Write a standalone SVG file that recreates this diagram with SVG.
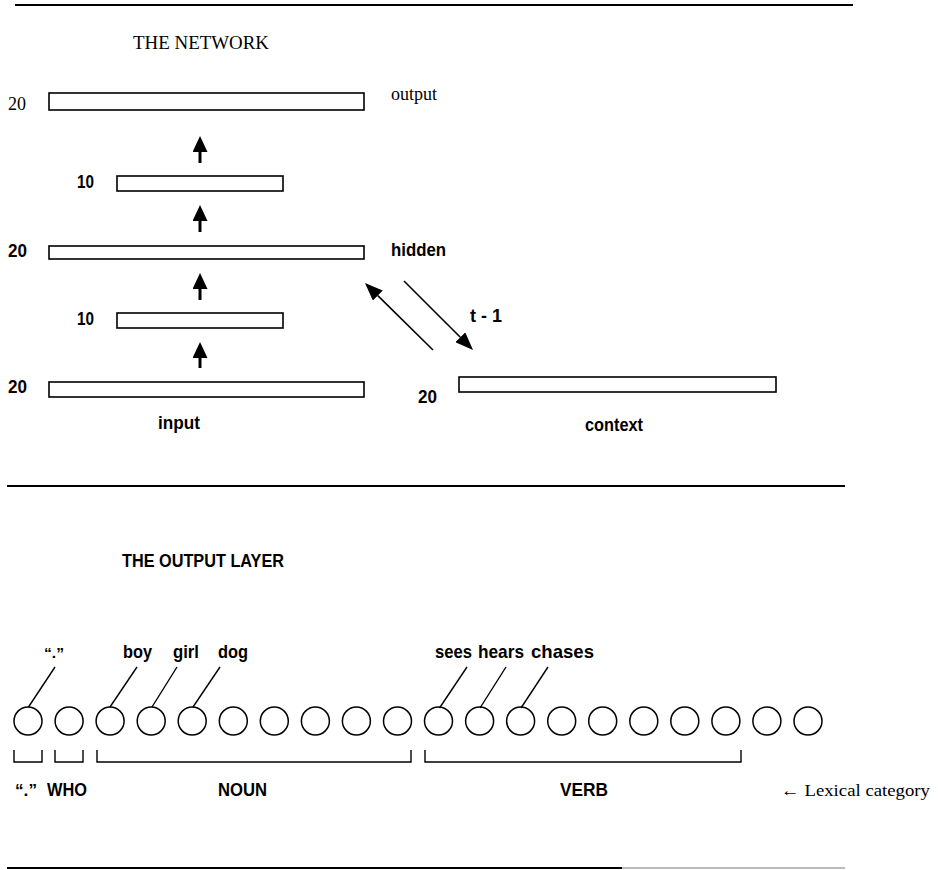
<svg xmlns="http://www.w3.org/2000/svg" width="938" height="870" viewBox="0 0 938 870">
<style>
  .bg{fill:#fff}
  .rule{stroke:#000;stroke-width:2;fill:none}
  .layer{fill:#fff;stroke:#000;stroke-width:1.6}
  .unit{fill:#fff;stroke:#000;stroke-width:1.5}
  .lead{stroke:#000;stroke-width:1.4;fill:none}
  .brk{stroke:#000;stroke-width:1.4;fill:none}
  .up{stroke:#000;stroke-width:3;fill:none}
  .diag{stroke:#000;stroke-width:1.6;fill:none}
  .serif{font-family:"Liberation Serif","Times New Roman",serif;fill:#000}
  .sans{font-family:"Liberation Sans",Arial,sans-serif;font-weight:bold;fill:#000}
</style>
<defs>
  <marker id="ahv" viewBox="0 0 16 15" refX="0" refY="7.5" markerWidth="16" markerHeight="15" markerUnits="userSpaceOnUse" orient="auto">
    <path d="M0,0 L16,7.5 L0,15 z" fill="#000"/>
  </marker>
  <marker id="ahd" viewBox="0 0 18 14" refX="0" refY="7" markerWidth="18" markerHeight="14" markerUnits="userSpaceOnUse" orient="auto">
    <path d="M0,0 L18,7 L0,14 z" fill="#000"/>
  </marker>
</defs>
<rect class="bg" x="0" y="0" width="938" height="870"/>

<g id="rules">
  <line class="rule" x1="15" y1="5" x2="853" y2="5"/>
  <line class="rule" x1="7" y1="486" x2="845" y2="486"/>
  <line class="rule" x1="7" y1="868" x2="622" y2="868"/>
  <line x1="622" y1="868" x2="845" y2="868" stroke="#bbb" stroke-width="2"/>
</g>

<g id="titles">
  <text class="serif" x="133" y="49" font-size="19" textLength="136" lengthAdjust="spacingAndGlyphs">THE NETWORK</text>
  <text class="sans" x="122" y="567" font-size="19" textLength="162" lengthAdjust="spacingAndGlyphs">THE OUTPUT LAYER</text>
</g>

<g id="output-layer">
  <rect class="layer" x="49" y="93" width="315" height="17"/>
  <text class="serif" x="8" y="110" font-size="18">20</text>
  <text class="serif" x="391" y="100" font-size="18">output</text>
</g>
<g id="hidden2">
  <rect class="layer" x="117" y="176" width="166" height="15"/>
  <text class="sans" x="77" y="188" font-size="19" textLength="17" lengthAdjust="spacingAndGlyphs">10</text>
</g>
<g id="hidden-layer">
  <rect class="layer" x="49" y="246" width="315" height="13"/>
  <text class="sans" x="8" y="257" font-size="19" textLength="19" lengthAdjust="spacingAndGlyphs">20</text>
  <text class="sans" x="391" y="256" font-size="19" textLength="55" lengthAdjust="spacingAndGlyphs">hidden</text>
</g>
<g id="hidden1">
  <rect class="layer" x="117" y="313" width="166" height="15"/>
  <text class="sans" x="77" y="325" font-size="19" textLength="17" lengthAdjust="spacingAndGlyphs">10</text>
</g>
<g id="input-layer">
  <rect class="layer" x="49" y="382" width="315" height="15" stroke-width="2"/>
  <text class="sans" x="8" y="393" font-size="19" textLength="19" lengthAdjust="spacingAndGlyphs">20</text>
  <text class="sans" x="158" y="429" font-size="19" textLength="42" lengthAdjust="spacingAndGlyphs">input</text>
</g>
<g id="context-layer">
  <rect class="layer" x="459" y="377" width="317" height="15"/>
  <text class="sans" x="418" y="403" font-size="19" textLength="19" lengthAdjust="spacingAndGlyphs">20</text>
  <text class="sans" x="585" y="431" font-size="19" textLength="58" lengthAdjust="spacingAndGlyphs">context</text>
</g>

<g id="connectors">
  <line class="up" x1="200" y1="163" x2="200" y2="152" marker-end="url(#ahv)"/>
  <line class="up" x1="200" y1="232" x2="200" y2="221" marker-end="url(#ahv)"/>
  <line class="up" x1="200" y1="300" x2="200" y2="289" marker-end="url(#ahv)"/>
  <line class="up" x1="200" y1="368" x2="200" y2="358" marker-end="url(#ahv)"/>
  <line class="diag" x1="433" y1="350" x2="377.8" y2="295.6" marker-end="url(#ahd)"/>
  <line class="diag" x1="404" y1="281" x2="460.3" y2="337.3" marker-end="url(#ahd)"/>
  <text class="sans" x="470" y="322" font-size="19" textLength="32" lengthAdjust="spacingAndGlyphs">t - 1</text>
</g>

<g id="units">
  <circle class="unit" cx="28" cy="721" r="14"/>
  <circle class="unit" cx="69.1" cy="721" r="14"/>
  <circle class="unit" cx="110.1" cy="721" r="14"/>
  <circle class="unit" cx="151.2" cy="721" r="14"/>
  <circle class="unit" cx="192.2" cy="721" r="14"/>
  <circle class="unit" cx="233.3" cy="721" r="14"/>
  <circle class="unit" cx="274.3" cy="721" r="14"/>
  <circle class="unit" cx="315.4" cy="721" r="14"/>
  <circle class="unit" cx="356.4" cy="721" r="14"/>
  <circle class="unit" cx="397.5" cy="721" r="14"/>
  <circle class="unit" cx="438.5" cy="721" r="14"/>
  <circle class="unit" cx="479.6" cy="721" r="14"/>
  <circle class="unit" cx="520.6" cy="721" r="14"/>
  <circle class="unit" cx="561.7" cy="721" r="14"/>
  <circle class="unit" cx="602.7" cy="721" r="14"/>
  <circle class="unit" cx="643.8" cy="721" r="14"/>
  <circle class="unit" cx="684.8" cy="721" r="14"/>
  <circle class="unit" cx="725.9" cy="721" r="14"/>
  <circle class="unit" cx="766.9" cy="721" r="14"/>
  <circle class="unit" cx="808" cy="721" r="14"/>
</g>

<g id="unit-labels">
  <line class="lead" x1="28.5" y1="707" x2="55" y2="667"/>
  <line class="lead" x1="110" y1="707" x2="137" y2="667"/>
  <line class="lead" x1="152" y1="707" x2="177" y2="667"/>
  <line class="lead" x1="193" y1="707" x2="220" y2="667"/>
  <line class="lead" x1="439.5" y1="708" x2="467" y2="667"/>
  <line class="lead" x1="480" y1="708" x2="506" y2="667"/>
  <line class="lead" x1="521" y1="708" x2="548" y2="667"/>
  <text class="sans" x="44" y="658" font-size="15" font-weight="normal" textLength="20" lengthAdjust="spacingAndGlyphs">“.”</text>
  <text class="sans" x="123" y="658" font-size="19" textLength="29" lengthAdjust="spacingAndGlyphs">boy</text>
  <text class="sans" x="173" y="658" font-size="19" textLength="26" lengthAdjust="spacingAndGlyphs">girl</text>
  <text class="sans" x="218" y="658" font-size="19" textLength="30" lengthAdjust="spacingAndGlyphs">dog</text>
  <text class="sans" x="435" y="658" font-size="19" textLength="37" lengthAdjust="spacingAndGlyphs">sees</text>
  <text class="sans" x="478" y="658" font-size="19" textLength="46" lengthAdjust="spacingAndGlyphs">hears</text>
  <text class="sans" x="531" y="658" font-size="19" textLength="63" lengthAdjust="spacingAndGlyphs">chases</text>
</g>

<g id="categories">
  <path class="brk" d="M14,750 V762 H42 V750"/>
  <path class="brk" d="M55,750 V762 H83 V750"/>
  <path class="brk" d="M97,750 V762 H411 V750"/>
  <path class="brk" d="M425,750 V762 H741 V750"/>
  <text class="sans" x="15" y="796" font-size="16" font-weight="normal" textLength="22" lengthAdjust="spacingAndGlyphs">“.”</text>
  <text class="sans" x="47" y="796" font-size="18" textLength="40" lengthAdjust="spacingAndGlyphs">WHO</text>
  <text class="sans" x="218" y="796" font-size="18" textLength="49" lengthAdjust="spacingAndGlyphs">NOUN</text>
  <text class="sans" x="560" y="796" font-size="18" textLength="48" lengthAdjust="spacingAndGlyphs">VERB</text>
  <text class="serif" x="781" y="796" font-size="17" textLength="149" lengthAdjust="spacingAndGlyphs">← Lexical category</text>
</g>
</svg>
